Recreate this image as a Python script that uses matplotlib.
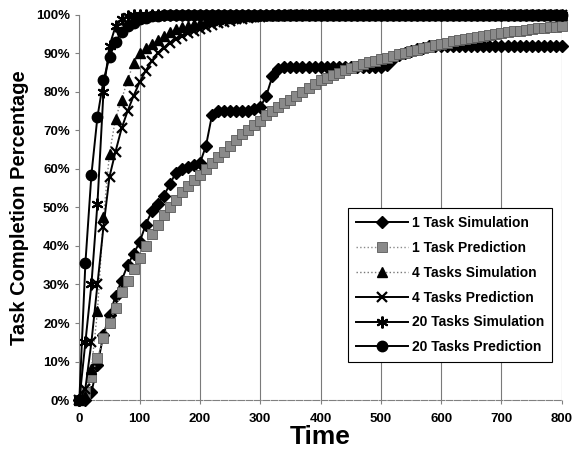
import matplotlib.pyplot as plt
from matplotlib.ticker import FuncFormatter, MultipleLocator

# sampling grid of the simulation (time units)
time = list(range(0, 810, 10))

sim_1 = [
    0, 0, 2, 9, 17, 22, 27, 31, 35, 38,
    41, 45.5, 49, 51, 53, 56, 59, 60, 60.5, 61,
    61.5, 66, 74, 75, 75, 75, 75, 75, 75, 75.5,
    76, 79, 84, 86, 86.5, 86.5, 86.5, 86.5, 86.5, 86.5,
    86.5, 86.5, 86.5, 86.5, 86.5, 86.5, 86.5, 86.5, 86.5, 86.5,
    86.5, 87, 88.5, 89.5, 90, 90.5, 91, 91.5, 92, 92,
    92, 92, 92, 92, 92, 92, 92, 92, 92, 92,
    92, 92, 92, 92, 92, 92, 92, 92, 92, 92,
    92,
]
pred_1 = [
    0, 2, 6, 11, 16, 20, 24, 28, 31, 34,
    37, 40, 43, 45.5, 48, 50, 52, 54, 55.5, 57,
    58.5, 60, 61.5, 63, 64.5, 66, 67.5, 69, 70, 71.5,
    72.5, 74, 75, 76, 77, 78, 79, 80, 81, 82,
    83, 83.7, 84.4, 85, 85.6, 86.1, 86.7, 87.2, 87.7, 88.1,
    88.5, 88.9, 89.3, 89.7, 90.1, 90.5, 90.9, 91.3, 91.7, 92.1,
    92.5, 92.8, 93.1, 93.4, 93.7, 94, 94.3, 94.5, 94.8, 95,
    95.3, 95.5, 95.7, 95.9, 96.1, 96.3, 96.5, 96.6, 96.8, 96.9,
    97,
]
sim_4 = [
    0, 1, 8, 23, 47.5, 64, 73, 78, 83, 87.5,
    90, 91.5, 92.5, 93.5, 94.5, 95.5, 96.2, 96.8, 97.2, 97.6,
    98, 98.3, 98.6, 98.9, 99.1, 99.3, 99.5, 99.6, 99.7, 99.8,
    99.9, 100, 100, 100, 100, 100, 100, 100, 100, 100,
    100, 100, 100, 100, 100, 100, 100, 100, 100, 100,
    100, 100, 100, 100, 100, 100, 100, 100, 100, 100,
    100, 100, 100, 100, 100, 100, 100, 100, 100, 100,
    100, 100, 100, 100, 100, 100, 100, 100, 100, 100,
    100,
]
pred_4 = [
    0, 3, 15, 30, 45, 58, 64.5, 70.5, 75, 79,
    82.5, 85.5, 88, 90, 91.5, 92.7, 93.7, 94.5, 95.2, 95.8,
    96.4, 96.9, 97.4, 97.8, 98.2, 98.5, 98.8, 99, 99.2, 99.4,
    99.5, 99.6, 99.7, 99.8, 99.85, 99.9, 99.95, 100, 100, 100,
    100, 100, 100, 100, 100, 100, 100, 100, 100, 100,
    100, 100, 100, 100, 100, 100, 100, 100, 100, 100,
    100, 100, 100, 100, 100, 100, 100, 100, 100, 100,
    100, 100, 100, 100, 100, 100, 100, 100, 100, 100,
    100,
]
sim_20 = [
    0, 15, 30, 51, 80, 92, 97, 99, 99.6, 99.9,
    100, 100, 100, 100, 100, 100, 100, 100, 100, 100,
    100, 100, 100, 100, 100, 100, 100, 100, 100, 100,
    100, 100, 100, 100, 100, 100, 100, 100, 100, 100,
    100, 100, 100, 100, 100, 100, 100, 100, 100, 100,
    100, 100, 100, 100, 100, 100, 100, 100, 100, 100,
    100, 100, 100, 100, 100, 100, 100, 100, 100, 100,
    100, 100, 100, 100, 100, 100, 100, 100, 100, 100,
    100,
]
pred_20 = [
    0, 35.5, 58.5, 73.5, 83, 89, 93, 95.5, 97, 98,
    98.8, 99.3, 99.6, 99.8, 99.9, 100, 100, 100, 100, 100,
    100, 100, 100, 100, 100, 100, 100, 100, 100, 100,
    100, 100, 100, 100, 100, 100, 100, 100, 100, 100,
    100, 100, 100, 100, 100, 100, 100, 100, 100, 100,
    100, 100, 100, 100, 100, 100, 100, 100, 100, 100,
    100, 100, 100, 100, 100, 100, 100, 100, 100, 100,
    100, 100, 100, 100, 100, 100, 100, 100, 100, 100,
    100,
]

series = [
    ("1 Task Simulation", sim_1),
    ("1 Task Prediction", pred_1),
    ("4 Tasks Simulation", sim_4),
    ("4 Tasks Prediction", pred_4),
    ("20 Tasks Simulation", sim_20),
    ("20 Tasks Prediction", pred_20),
]

styles = {
    "1 Task Simulation": dict(color="black", lw=1.4, ls="-", marker="D", ms=6.5,
                              mfc="black", mec="black"),
    "1 Task Prediction": dict(color="#8a8a8a", lw=1.0, ls=":", marker="s", ms=6.5,
                              mfc="#8a8a8a", mec="#5a5a5a", mew=0.6),
    "4 Tasks Simulation": dict(color="#777777", lw=1.0, ls=":", marker="^", ms=7,
                               mfc="black", mec="black"),
    "4 Tasks Prediction": dict(color="black", lw=1.4, ls="-", marker="x", ms=7.5,
                               mec="black", mew=1.6),
    "20 Tasks Simulation": dict(color="black", lw=1.4, ls="-", marker=(6, 2, 0), ms=8.5,
                                mec="black", mew=1.5),
    "20 Tasks Prediction": dict(color="black", lw=1.4, ls="-", marker="o", ms=7.5,
                                mfc="black", mec="black"),
}

plt.rcParams["font.family"] = ["Liberation Sans", "DejaVu Sans"]
plt.rcParams["font.weight"] = "bold"

fig = plt.figure(figsize=(5.75, 4.49), dpi=100)
ax = fig.add_axes([0.138, 0.109, 0.839, 0.858])

for name, values in series:
    ax.plot(time, values, label=name, clip_on=False, zorder=3, **styles[name])

ax.set_xlim(0, 800)
ax.set_ylim(0, 100)
ax.xaxis.set_major_locator(MultipleLocator(100))
ax.yaxis.set_major_locator(MultipleLocator(10))
ax.yaxis.set_major_formatter(FuncFormatter(lambda v, _: f"{v:.0f}%"))

ax.grid(axis="x", color="#7a7a7a", lw=0.8)
ax.set_axisbelow(True)
for side in ("top", "right"):
    ax.spines[side].set_visible(False)
ax.spines["left"].set_color("#808080")
ax.spines["bottom"].set_color("#808080")
ax.spines["bottom"].set_linestyle((0, (6, 1.5)))
ax.tick_params(axis="both", labelsize=9.5, length=3, color="#808080")
ax.tick_params(axis="x", pad=6)
ax.tick_params(axis="y", pad=4)
for lbl in ax.get_xticklabels() + ax.get_yticklabels():
    lbl.set_fontweight("bold")

ax.set_xlabel("Time", fontsize=19, fontweight="bold", labelpad=0)
ax.set_ylabel("Task Completion Percentage", fontsize=14.5, fontweight="bold", labelpad=5)

leg = ax.legend(
    loc="lower right",
    bbox_to_anchor=(0.979, 0.099),
    fontsize=10,
    frameon=True,
    fancybox=False,
    edgecolor="black",
    framealpha=1,
    handlelength=3.8,
    handletextpad=0.25,
    labelspacing=0.78,
    borderpad=0.55,
    borderaxespad=0,
)
leg.get_frame().set_linewidth(0.8)
leg.set_zorder(5)

fig.savefig("out.png", dpi=100)
